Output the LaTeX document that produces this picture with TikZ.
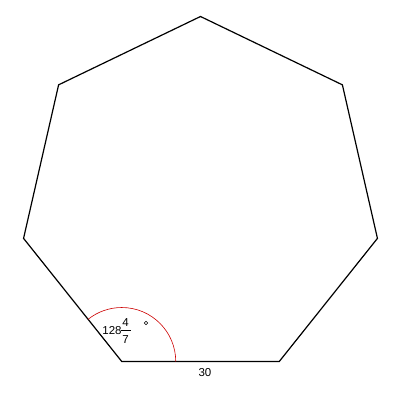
\documentclass[tikz,border=0pt]{standalone}
\usepackage{fontspec}
\setmainfont{Liberation Sans}
\usetikzlibrary{calc}
\begin{document}
\begin{tikzpicture}[x=1pt,y=1pt,
  edge/.style={line width=1.2pt},
  lbl/.style={font=\fontsize{11.5}{12}\selectfont, inner sep=0pt}]
\useasboundingbox (0,0) rectangle (408,402);
\coordinate (c) at (200.5,204);
\foreach \k in {0,...,6} {
  \coordinate (v\k) at ($(c)+({90-\k*360/7}:181.5)$);
}
\draw[edge, line join=miter] (v0) -- (v1) -- (v2) -- (v3) -- (v4) -- (v5) -- (v6) -- cycle;
\draw[red!80!black, line width=0.6pt] ($(v4)+(54,0)$) arc[start angle=0, end angle=128.571, radius=54];
\node[lbl] (ang) at (112,71) {128};
\node[lbl] (num) at (125.5,79.5) {4};
\node[lbl] (den) at (125.5,62) {7};
\coordinate (b1) at (121,71.2);
\coordinate (b2) at (130.5,71.2);
\draw[line width=0.8pt] (b1) -- (b2);
\node[draw, circle, line width=0.6pt, minimum size=3.4pt, inner sep=0pt] (deg) at (146,79) {};
\node[lbl] (side) at (205,29.5) {30};
\end{tikzpicture}
\end{document}
